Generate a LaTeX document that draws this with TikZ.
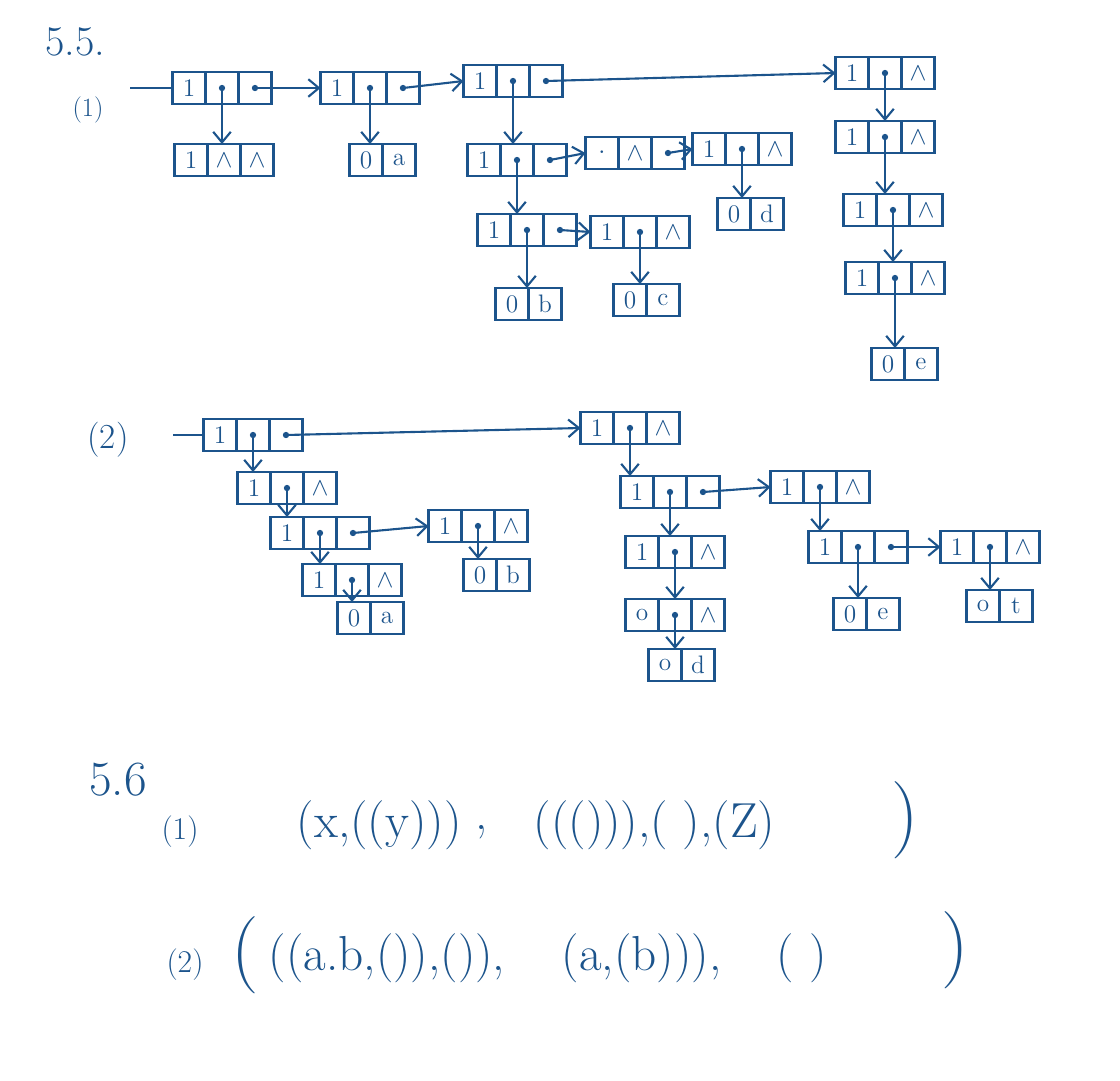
\documentclass[tikz,border=0pt]{standalone}
\usetikzlibrary{positioning}
\usetikzlibrary{arrows.meta}
\definecolor{ink}{RGB}{28,84,140}
\tikzset{cell/.style={draw, minimum width=0.66cm, minimum height=0.64cm,
    inner sep=0pt, outer sep=0pt, font=\Large},
  ptr/.style={-{Straight Barb[length=6pt,width=10pt]}},
  big/.style={font=\fontsize{28}{30}\selectfont},
  bigger/.style={font=\fontsize{44}{44}\selectfont},
  tag/.style={font=\fontsize{18}{20}\selectfont}}
% list node: tag | hp | tp
\newcommand{\glnode}[5]{%
  \node[cell] (#1-t) at (#2) {#3};
  \node[cell, right=0pt of #1-t] (#1-h) {#4};
  \node[cell, right=0pt of #1-h] (#1-p) {#5};}
% atom node: tag | value
\newcommand{\atomnode}[4]{%
  \node[cell] (#1-t) at (#2) {#3};
  \node[cell, right=0pt of #1-t] (#1-v) {#4};}
\newcommand{\nil}{$\wedge$}
% head pointer (down) and tail pointer (right)
\newcommand{\hpto}[2]{%
  \fill (#1-h.center) circle (1.8pt);
  \draw[ptr] (#1-h.center) -- (#1-h.center |- #2-t.north);}
\newcommand{\tpto}[2]{%
  \fill (#1-p.center) circle (1.8pt);
  \draw[ptr] (#1-p.center) -- (#2-t.west);}

\begin{document}
\begin{tikzpicture}[x=0.02cm, y=-0.02cm, ink, line width=1.2pt]
  \useasboundingbox (0,0) rectangle (1120,1080);

  % 5.5 (1)
  \node[font=\fontsize{24}{26}\selectfont] (t55) at (75,42) {5.5.};
  \node[font=\fontsize{15}{17}\selectfont] (q1) at (88,110) {(1)};
  \coordinate (in1) at (130,88);
  \glnode{A1}{189,88}{1}{}{}
  \glnode{A2}{337,88}{1}{}{}
  \glnode{A3}{480,81}{1}{}{}
  \glnode{A4}{852,73}{1}{}{\nil}
  \glnode{B1}{191,160}{1}{\nil}{\nil}
  \atomnode{a1}{366,160}{0}{a}
  \glnode{C1}{484,160}{1}{}{}
  \glnode{C2}{602,153}{$\cdot$}{\nil}{}
  \glnode{C3}{709,149}{1}{}{\nil}
  \atomnode{d1}{734,214}{0}{d}
  \glnode{D1}{494,230}{1}{}{}
  \glnode{D2}{607,232}{1}{}{\nil}
  \atomnode{b1}{512,304}{0}{b}
  \atomnode{c1}{630,300}{0}{c}
  \glnode{E1}{852,137}{1}{}{\nil}
  \glnode{E2}{860,210}{1}{}{\nil}
  \glnode{E3}{862,278}{1}{}{\nil}
  \atomnode{e1}{888,364}{0}{e}

  \draw (in1) -- (A1-t.west);
  \tpto{A1}{A2}
  \tpto{A2}{A3}
  \tpto{A3}{A4}
  \hpto{A1}{B1}
  \hpto{A2}{a1}
  \hpto{A3}{C1}
  \hpto{A4}{E1}
  \tpto{C1}{C2}
  \tpto{C2}{C3}
  \hpto{C3}{d1}
  \hpto{C1}{D1}
  \tpto{D1}{D2}
  \hpto{D1}{b1}
  \hpto{D2}{c1}
  \hpto{E1}{E2}
  \hpto{E2}{E3}
  \hpto{E3}{e1}

  % 5.5 (2)
  \node[font=\fontsize{20}{22}\selectfont] (q2) at (108,440) {(2)};
  \coordinate (in2) at (173,435);
  \glnode{F1}{220,435}{1}{}{}
  \glnode{G1}{597,428}{1}{}{\nil}
  \glnode{H1}{254,488}{1}{}{\nil}
  \glnode{H2}{287,533}{1}{}{}
  \glnode{H3}{445,526}{1}{}{\nil}
  \atomnode{b2}{480,575}{0}{b}
  \glnode{H4}{319,580}{1}{}{\nil}
  \atomnode{a2}{354,618}{0}{a}
  \glnode{J1}{637,492}{1}{}{}
  \glnode{K1}{787,487}{1}{}{\nil}
  \glnode{J2}{642,552}{1}{}{\nil}
  \glnode{J3}{642,615}{o}{}{\nil}
  \atomnode{d2}{665,665}{o}{d}
  \glnode{L1}{825,547}{1}{}{}
  \glnode{L2}{957,547}{1}{}{\nil}
  \atomnode{e2}{850,614}{0}{e}
  \atomnode{f2}{983,606}{o}{t}

  \draw (in2) -- (F1-t.west);
  \tpto{F1}{G1}
  \hpto{F1}{H1}
  \hpto{H1}{H2}
  \tpto{H2}{H3}
  \hpto{H3}{b2}
  \hpto{H2}{H4}
  \hpto{H4}{a2}
  \hpto{G1}{J1}
  \tpto{J1}{K1}
  \hpto{J1}{J2}
  \hpto{J2}{J3}
  \hpto{J3}{d2}
  \hpto{K1}{L1}
  \tpto{L1}{L2}
  \hpto{L1}{e2}
  \hpto{L2}{f2}

  % 5.6
  \node[font=\fontsize{28}{30}\selectfont] (t56) at (118,780) {5.6};
  \node[tag] (r1) at (180,832) {(1)};
  \node[big, anchor=west] (e1a) at (290,825) {(x,((y)))};
  \node[big] (e1c) at (482,832) {,};
  \node[big, anchor=west] (e1b) at (527,825) {((())),( ),(Z)};
  \node[bigger] (e1d) at (905,820) {)};
  \node[tag] (r2) at (185,965) {(2)};
  \node[bigger] (e2l) at (245,955) {(};
  \node[big, anchor=west] (e2a) at (262,958) {((a.b,()),()),};
  \node[big, anchor=west] (e2b) at (555,958) {(a,(b))),};
  \node[big, anchor=west] (e2c) at (770,958) {( )};
  \node[bigger] (e2r) at (955,950) {)};
\end{tikzpicture}
\end{document}
